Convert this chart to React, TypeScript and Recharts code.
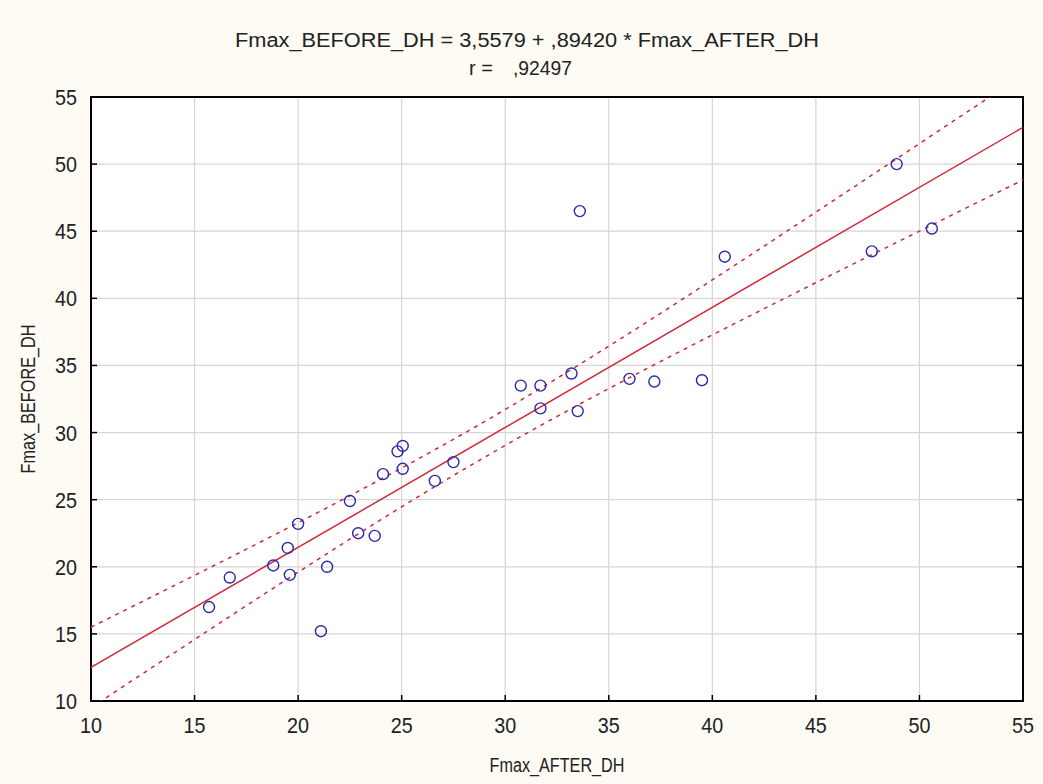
import React from 'react';
import { ComposedChart, XAxis, YAxis, CartesianGrid, Scatter, Line, ReferenceArea } from 'recharts';

const afterDH = [15.7, 16.7, 18.8, 19.5, 19.6, 20.0, 21.4, 21.1, 22.5, 22.9, 23.7, 24.1, 24.8, 25.05, 25.05, 26.6, 27.5, 30.75, 31.7, 31.7, 33.2, 33.5, 33.6, 36.0, 37.2, 39.5, 40.6, 47.7, 48.9, 50.6];
const beforeDH = [17.0, 19.2, 20.1, 21.4, 19.4, 23.2, 20.0, 15.2, 24.9, 22.5, 22.3, 26.9, 28.6, 29.0, 27.3, 26.4, 27.8, 33.5, 33.5, 31.8, 34.4, 31.6, 46.5, 34.0, 33.8, 33.9, 43.1, 43.5, 50.0, 45.2];

const xTicks = [10, 15, 20, 25, 30, 35, 40, 45, 50, 55];
const yTicks = [10, 15, 20, 25, 30, 35, 40, 45, 50, 55];

// Regression stated in the chart title
const intercept = 3.5579;
const slope = 0.8942;
const titleLine1 = 'Fmax_BEFORE_DH = 3,5579 + ,89420 * Fmax_AFTER_DH';
const rLabel = 'r =';
const rValue = ',92497';
const xLabel = 'Fmax_AFTER_DH';
const yLabel = 'Fmax_BEFORE_DH';
const tCrit = 2.0484; // t(0.975, 28)
const bandStep = 0.5;

const points = afterDH.map((x, i) => ({ x, y: beforeDH[i] }));

const n = afterDH.length;
const xMean = afterDH.reduce((a, b) => a + b, 0) / n;
const sxx = afterDH.reduce((a, x) => a + (x - xMean) * (x - xMean), 0);
const sse = points.reduce((a, p) => a + Math.pow(p.y - (intercept + slope * p.x), 2), 0);
const sRes = Math.sqrt(sse / (n - 2));

const fitLine = [xTicks[0], xTicks[xTicks.length - 1]].map((x) => ({ x, y: intercept + slope * x }));
const bandXs: number[] = [];
for (let x = xTicks[0]; x <= xTicks[xTicks.length - 1] + 1e-9; x += bandStep) bandXs.push(x);
const halfWidth = (x: number) => tCrit * sRes * Math.sqrt(1 / n + ((x - xMean) * (x - xMean)) / sxx);
const upperBand = bandXs.map((x) => ({ x, y: intercept + slope * x + halfWidth(x) }));
const lowerBand = bandXs.map((x) => ({ x, y: intercept + slope * x - halfWidth(x) }));

const W = 1043;
const H = 784;
const M = { top: 97, right: 20, bottom: 0, left: 0 };
const Y_AXIS_W = 91;
const X_AXIS_H = 83;
const PLOT_RIGHT = W - M.right;
const FONT = '"Liberation Sans Narrow", "Arial Narrow", "Liberation Sans", Arial, sans-serif';
const RED = '#d0283a';
const BLUE = '#2a2aa8';
const TEXT = '#222';

const XTick = (props: any) => {
  const { x, y, payload } = props;
  return (
    <g>
      <line x1={x} x2={x} y1={y} y2={y - 6} stroke="#000" strokeWidth={1.5} />
      <text x={x} y={y + 32} textAnchor="middle" fontFamily={FONT} fontSize={22} fill={TEXT} textLength={22} lengthAdjust="spacingAndGlyphs">
        {payload.value}
      </text>
    </g>
  );
};

const YTick = (props: any) => {
  const { x, y, payload } = props;
  return (
    <g>
      <line x1={x} x2={x + 6} y1={y} y2={y} stroke="#000" strokeWidth={1.5} />
      <line x1={PLOT_RIGHT} x2={PLOT_RIGHT - 6} y1={y} y2={y} stroke="#000" strokeWidth={1.5} />
      <text x={x - 14} y={y + 8} textAnchor="end" fontFamily={FONT} fontSize={22} fill={TEXT} textLength={22} lengthAdjust="spacingAndGlyphs">
        {payload.value}
      </text>
    </g>
  );
};

const Circle = (props: any) => {
  const { cx, cy } = props;
  return <circle cx={cx} cy={cy} r={5.5} fill="none" stroke={BLUE} strokeWidth={1.4} />;
};

const XLabelContent = (props: any) => {
  const vb = props.viewBox;
  const cx = vb.x + vb.width / 2;
  return (
    <text x={cx} y={772} textAnchor="middle" fontFamily={FONT} fontSize={20} fill={TEXT} textLength={135} lengthAdjust="spacingAndGlyphs">
      {xLabel}
    </text>
  );
};

const YLabelContent = () => {
  const cy = M.top + (H - M.top - X_AXIS_H) / 2;
  const lx = 35;
  return (
    <text x={lx} y={cy} transform={`rotate(-90 ${lx} ${cy})`} textAnchor="middle" fontFamily={FONT} fontSize={20} fill={TEXT} textLength={149} lengthAdjust="spacingAndGlyphs">
      {yLabel}
    </text>
  );
};

export default function App() {
  return (
    <div style={{ position: 'absolute', left: 0, top: 0, width: W, height: H, background: '#fdfbf4' }}>
      <ComposedChart width={W} height={H} margin={M}>
        <CartesianGrid stroke="#d6d6d6" strokeWidth={1.2} fill="#ffffff" verticalValues={xTicks} horizontalValues={yTicks} />
        <XAxis
          type="number"
          dataKey="x"
          domain={[10, 55]}
          ticks={xTicks}
          allowDataOverflow
          height={X_AXIS_H}
          axisLine={false}
          tickLine={false}
          tickSize={0}
          tickMargin={0}
          tick={<XTick />}
          interval={0}
          label={{ content: <XLabelContent /> }}
        />
        <YAxis
          type="number"
          dataKey="y"
          domain={[10, 55]}
          ticks={yTicks}
          allowDataOverflow
          width={Y_AXIS_W}
          axisLine={false}
          tickLine={false}
          tickSize={0}
          tickMargin={0}
          tick={<YTick />}
          interval={0}
          label={{ content: <YLabelContent /> }}
        />
        <Line data={upperBand} dataKey="y" type="linear" stroke={RED} strokeWidth={1.5} strokeDasharray="4 5" dot={false} isAnimationActive={false} />
        <Line data={lowerBand} dataKey="y" type="linear" stroke={RED} strokeWidth={1.5} strokeDasharray="4 5" dot={false} isAnimationActive={false} />
        <Line data={fitLine} dataKey="y" type="linear" stroke={RED} strokeWidth={1.5} dot={false} isAnimationActive={false} />
        <Scatter data={points} dataKey="y" shape={<Circle />} isAnimationActive={false} />
        <ReferenceArea x1={10} x2={55} y1={10} y2={55} fill="none" stroke="#000" strokeWidth={2} strokeOpacity={1} fillOpacity={0} />
      </ComposedChart>
      <svg width={W} height={90} style={{ position: 'absolute', left: 0, top: 0, pointerEvents: 'none' }}>
        <text x={235} y={47} fontFamily={FONT} fontSize={20} fill={TEXT} textLength={584} lengthAdjust="spacingAndGlyphs">
          {titleLine1}
        </text>
        <text x={469} y={75} fontFamily={FONT} fontSize={20} fill={TEXT}>
          {rLabel}
        </text>
        <text x={513} y={75} fontFamily={FONT} fontSize={20} fill={TEXT} textLength={59} lengthAdjust="spacingAndGlyphs">
          {rValue}
        </text>
      </svg>
    </div>
  );
}
